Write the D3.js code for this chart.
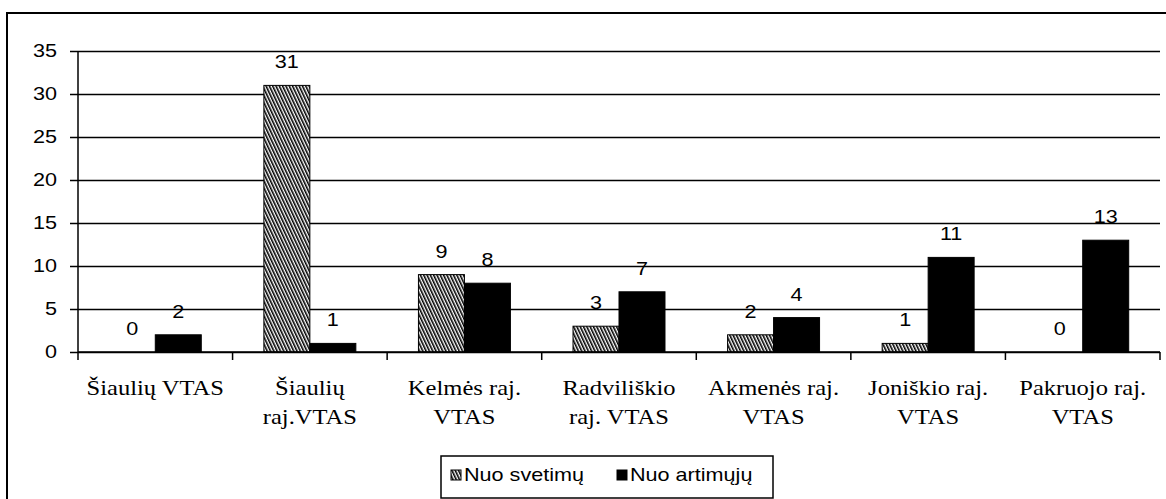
<!DOCTYPE html>
<html>
<head>
<meta charset="utf-8">
<script src="https://cdn.jsdelivr.net/npm/d3@7"></script>
<style>
  body { margin: 0; background: #fff; }
  svg { display: block; }
</style>
</head>
<body>
<div id="container"></div>
<script>
const categories = [["Šiaulių VTAS"], ["Šiaulių", "raj.VTAS"], ["Kelmės raj.", "VTAS"], ["Radviliškio", "raj. VTAS"], ["Akmenės raj.", "VTAS"], ["Joniškio raj.", "VTAS"], ["Pakruojo raj.", "VTAS"]];
const seriesNames = ["Nuo svetimų", "Nuo artimųjų"];
const svetimu = [0, 31, 9, 3, 2, 1, 0];
const artimuju = [2, 1, 8, 7, 4, 11, 13];
const yTicks = [0, 5, 10, 15, 20, 25, 30, 35];

const w = 1166, h = 499;
const padL = 78, padR = 1160, padT = 51, padB = 352;
const stretch = 1.2; // text in the picture is wide
const sans = "'Liberation Sans', Arial, sans-serif";
const serif = "'Times New Roman', 'Liberation Serif', 'DejaVu Serif', serif";

const svg = d3.select("#container").append("svg")
  .attr("width", w).attr("height", h);

const defs = svg.append("defs");
const pat = defs.append("pattern")
  .attr("id", "hatch")
  .attr("patternUnits", "userSpaceOnUse")
  .attr("width", 3).attr("height", 3)
  .attr("patternTransform", "rotate(-25)");
pat.append("rect").attr("width", 3).attr("height", 3).attr("fill", "#fff");
pat.append("line").attr("x1", 0.8).attr("y1", 0).attr("x2", 0.8).attr("y2", 3)
  .attr("stroke", "#000").attr("stroke-width", 1.6);

// outer frame
svg.append("rect")
  .attr("x", 7).attr("y", 13).attr("width", 1300).attr("height", 700)
  .attr("fill", "none").attr("stroke", "#000").attr("stroke-width", 2);

const idx = d3.range(categories.length);
const x0 = d3.scaleBand().domain(idx).range([padL, padR])
  .paddingInner(0.405).paddingOuter(0.2025);
const x1 = d3.scaleBand().domain([0, 1]).range([0, x0.bandwidth()]);
const y = d3.scaleLinear().domain([0, 35]).range([padB, padT]);

// gridlines + y axis
const yAxis = d3.axisLeft(y).tickValues(yTicks)
  .tickSize(-(padR - padL)).tickSizeOuter(0);
const gy = svg.append("g").attr("transform", `translate(${padL},0)`).call(yAxis);
gy.select(".domain").remove();
gy.selectAll(".tick line").attr("x1", -8).attr("stroke", "#000").attr("stroke-width", 1.5);
gy.selectAll(".tick text")
  .attr("x", null)
  .attr("transform", `translate(-21,0) scale(${stretch},1)`)
  .attr("text-anchor", "end")
  .attr("font-family", sans)
  .attr("font-size", 18).attr("fill", "#000");
svg.append("line").attr("x1", padL).attr("x2", padL).attr("y1", padT).attr("y2", padB)
  .attr("stroke", "#000").attr("stroke-width", 1.5);

// bars
const series = [svetimu, artimuju];
series.forEach((vals, s) => {
  svg.append("g").selectAll("rect")
    .data(idx.filter(i => vals[i] > 0)).enter().append("rect")
    .attr("x", i => x0(i) + x1(s))
    .attr("y", i => y(vals[i]))
    .attr("width", x1.bandwidth())
    .attr("height", i => y(0) - y(vals[i]))
    .attr("fill", s === 0 ? "url(#hatch)" : "#000")
    .attr("stroke", "#000").attr("stroke-width", 1);

  svg.append("g").selectAll("text")
    .data(idx).enter().append("text")
    .attr("transform", i => `translate(${x0(i) + x1(s) + x1.bandwidth() / 2},${y(vals[i]) - 17}) scale(${stretch},1)`)
    .attr("text-anchor", "middle")
    .attr("font-family", sans)
    .attr("font-size", 18)
    .text(i => vals[i]);
});

// x axis
svg.append("line").attr("x1", padL).attr("x2", padR).attr("y1", padB).attr("y2", padB)
  .attr("stroke", "#000").attr("stroke-width", 1.5);
svg.append("g").selectAll("line")
  .data(d3.range(categories.length + 1)).enter().append("line")
  .attr("x1", i => padL + i * x0.step()).attr("x2", i => padL + i * x0.step())
  .attr("y1", padB).attr("y2", padB + 8)
  .attr("stroke", "#000").attr("stroke-width", 1.5);

svg.append("g").selectAll("text")
  .data(idx).enter().append("text")
  .attr("transform", i => `translate(${x0(i) + x0.bandwidth() / 2},395) scale(1.17,1)`)
  .attr("text-anchor", "middle")
  .attr("font-family", serif)
  .attr("font-size", 21)
  .each(function(i) {
    d3.select(this).selectAll("tspan").data(categories[i]).enter().append("tspan")
      .attr("x", 0)
      .attr("dy", (d, k) => k === 0 ? 0 : 29)
      .attr("font-family", serif)
      .text(d => d);
  });

// legend
const lg = svg.append("g");
lg.append("rect").attr("x", 441).attr("y", 456).attr("width", 332).attr("height", 42)
  .attr("fill", "#fff").attr("stroke", "#000").attr("stroke-width", 1.5);
const items = [{x: 451, fill: "url(#hatch)"}, {x: 617, fill: "#000"}];
items.forEach((it, k) => {
  lg.append("rect").attr("x", it.x).attr("y", 470).attr("width", 10).attr("height", 10)
    .attr("fill", it.fill).attr("stroke", "#000").attr("stroke-width", 1);
  lg.append("text")
    .attr("transform", `translate(${it.x + 13},481) scale(${stretch},1)`)
    .attr("font-family", sans)
    .attr("font-size", 18)
    .text(seriesNames[k]);
});
</script>
</body>
</html>
